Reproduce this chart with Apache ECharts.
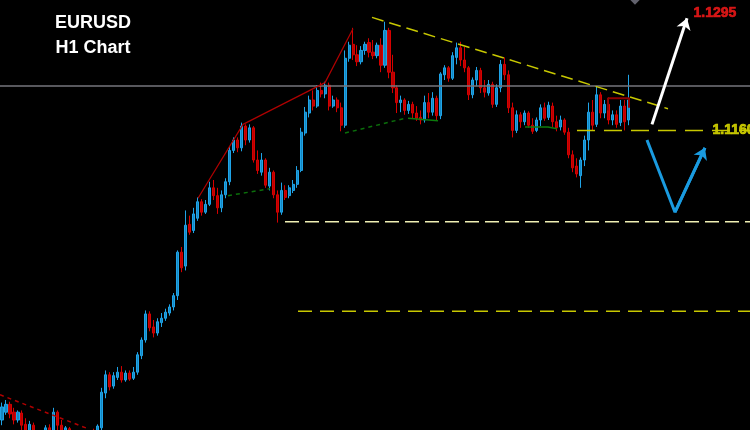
<!DOCTYPE html>
<html>
<head>
<meta charset="utf-8">
<title>EURUSD H1 Chart</title>
<script src="https://cdn.jsdelivr.net/npm/echarts@6/dist/echarts.min.js"></script>
<style>
  html, body { margin: 0; padding: 0; background: #000; }
  #chart { width: 750px; height: 430px; }
</style>
</head>
<body>
<div id="chart"></div>
<script>
// hourly candles, oldest first
const opens = [
  1.0827, 1.0836, 1.0845, 1.0836, 1.0827, 1.0835, 1.0822, 1.0813, 1.0821, 1.0806,
  1.0798, 1.0806, 1.0818, 1.0813, 1.0836, 1.0821, 1.0812, 1.0817, 1.0806, 1.0798,
  1.0804, 1.0797, 1.0806, 1.0813, 1.0813, 1.0818, 1.0858, 1.0879, 1.0866, 1.0876,
  1.0882, 1.0873, 1.0881, 1.0875, 1.0882, 1.0901, 1.0919, 1.0949, 1.0934, 1.0927,
  1.0939, 1.0944, 1.0950, 1.0957, 1.0970, 1.1020, 1.1004, 1.1052, 1.1045, 1.1059,
  1.1078, 1.1066, 1.1075, 1.1094, 1.1085, 1.1071, 1.1086, 1.1101, 1.1137, 1.1149,
  1.1140, 1.1165, 1.1149, 1.1163, 1.1126, 1.1112, 1.1126, 1.1096, 1.1112, 1.1086,
  1.1066, 1.1091, 1.1085, 1.1091, 1.1098, 1.1114, 1.1157, 1.1180, 1.1195, 1.1188,
  1.1206, 1.1202, 1.1212, 1.1188, 1.1195, 1.1186, 1.1166, 1.1243, 1.1259, 1.1247,
  1.1239, 1.1252, 1.1261, 1.1250, 1.1246, 1.1258, 1.1235, 1.1275, 1.1227, 1.1209,
  1.1192, 1.1195, 1.1183, 1.1190, 1.1180, 1.1175, 1.1172, 1.1192, 1.1181, 1.1197,
  1.1177, 1.1224, 1.1232, 1.1220, 1.1244, 1.1255, 1.1241, 1.1232, 1.1201, 1.1218,
  1.1229, 1.1209, 1.1203, 1.1213, 1.1190, 1.1209, 1.1236, 1.1224, 1.1186, 1.1160,
  1.1178, 1.1170, 1.1180, 1.1166, 1.1160, 1.1172, 1.1186, 1.1175, 1.1188, 1.1170,
  1.1164, 1.1172, 1.1158, 1.1132, 1.1119, 1.1108, 1.1126, 1.1149, 1.1181, 1.1167,
  1.1201, 1.1180, 1.1190, 1.1172, 1.1178, 1.1169, 1.1188, 1.1172
];
const closes = [
  1.0842, 1.0845, 1.0834, 1.0827, 1.0836, 1.0821, 1.0813, 1.0822, 1.0806, 1.0798,
  1.0806, 1.0818, 1.0811, 1.0836, 1.0821, 1.0811, 1.0818, 1.0806, 1.0798, 1.0804,
  1.0797, 1.0806, 1.0813, 1.0809, 1.0820, 1.0859, 1.0879, 1.0865, 1.0878, 1.0882,
  1.0873, 1.0881, 1.0874, 1.0882, 1.0902, 1.0919, 1.0949, 1.0933, 1.0927, 1.0940,
  1.0944, 1.0951, 1.0957, 1.0970, 1.1020, 1.1002, 1.1051, 1.1043, 1.1064, 1.1078,
  1.1066, 1.1075, 1.1094, 1.1085, 1.1071, 1.1086, 1.1101, 1.1137, 1.1149, 1.1140,
  1.1165, 1.1149, 1.1163, 1.1126, 1.1114, 1.1126, 1.1097, 1.1112, 1.1086, 1.1066,
  1.1091, 1.1083, 1.1094, 1.1098, 1.1114, 1.1158, 1.1181, 1.1195, 1.1188, 1.1206,
  1.1202, 1.1212, 1.1188, 1.1195, 1.1186, 1.1166, 1.1243, 1.1258, 1.1247, 1.1239,
  1.1252, 1.1259, 1.1250, 1.1246, 1.1258, 1.1235, 1.1275, 1.1227, 1.1209, 1.1192,
  1.1195, 1.1183, 1.1190, 1.1180, 1.1174, 1.1172, 1.1192, 1.1181, 1.1197, 1.1177,
  1.1225, 1.1232, 1.1220, 1.1246, 1.1255, 1.1241, 1.1232, 1.1201, 1.1218, 1.1229,
  1.1209, 1.1204, 1.1213, 1.1190, 1.1209, 1.1236, 1.1224, 1.1186, 1.1160, 1.1178,
  1.1170, 1.1180, 1.1166, 1.1159, 1.1172, 1.1186, 1.1174, 1.1189, 1.1170, 1.1163,
  1.1172, 1.1158, 1.1132, 1.1117, 1.1110, 1.1126, 1.1149, 1.1181, 1.1166, 1.1201,
  1.1180, 1.1190, 1.1172, 1.1178, 1.1167, 1.1188, 1.1170, 1.1195
];
const lows = [
  1.0821, 1.0833, 1.0829, 1.0822, 1.0824, 1.0815, 1.0809, 1.0809, 1.0802, 1.0792,
  1.0795, 1.0804, 1.0806, 1.0810, 1.0815, 1.0806, 1.0809, 1.0802, 1.0792, 1.0792,
  1.0790, 1.0794, 1.0803, 1.0804, 1.0809, 1.0813, 1.0852, 1.0861, 1.0863, 1.0873,
  1.0870, 1.0871, 1.0872, 1.0873, 1.0879, 1.0897, 1.0916, 1.0929, 1.0922, 1.0924,
  1.0934, 1.0941, 1.0947, 1.0953, 1.0965, 1.0997, 1.0999, 1.1040, 1.1042, 1.1056,
  1.1062, 1.1064, 1.1073, 1.1080, 1.1064, 1.1066, 1.1082, 1.1097, 1.1134, 1.1135,
  1.1136, 1.1143, 1.1146, 1.1123, 1.1110, 1.1108, 1.1094, 1.1091, 1.1082, 1.1054,
  1.1063, 1.1080, 1.1082, 1.1088, 1.1094, 1.1112, 1.1154, 1.1175, 1.1183, 1.1186,
  1.1198, 1.1197, 1.1183, 1.1186, 1.1181, 1.1159, 1.1163, 1.1239, 1.1241, 1.1234,
  1.1236, 1.1247, 1.1244, 1.1242, 1.1243, 1.1227, 1.1232, 1.1220, 1.1203, 1.1180,
  1.1181, 1.1178, 1.1179, 1.1174, 1.1171, 1.1167, 1.1169, 1.1174, 1.1177, 1.1171,
  1.1173, 1.1218, 1.1216, 1.1218, 1.1236, 1.1234, 1.1227, 1.1195, 1.1197, 1.1211,
  1.1203, 1.1198, 1.1200, 1.1186, 1.1187, 1.1204, 1.1218, 1.1180, 1.1152, 1.1157,
  1.1163, 1.1166, 1.1163, 1.1156, 1.1158, 1.1165, 1.1171, 1.1172, 1.1164, 1.1159,
  1.1160, 1.1155, 1.1128, 1.1112, 1.1106, 1.1094, 1.1119, 1.1137, 1.1160, 1.1164,
  1.1174, 1.1174, 1.1167, 1.1166, 1.1163, 1.1165, 1.1160, 1.1166
];
const highs = [
  1.0847, 1.0850, 1.0848, 1.0841, 1.0838, 1.0838, 1.0829, 1.0826, 1.0824, 1.0811,
  1.0813, 1.0821, 1.0822, 1.0841, 1.0838, 1.0827, 1.0820, 1.0819, 1.0810, 1.0807,
  1.0806, 1.0810, 1.0815, 1.0817, 1.0822, 1.0864, 1.0884, 1.0882, 1.0882, 1.0888,
  1.0889, 1.0884, 1.0884, 1.0888, 1.0905, 1.0922, 1.0953, 1.0952, 1.0942, 1.0944,
  1.0950, 1.0955, 1.0960, 1.0973, 1.1022, 1.1026, 1.1068, 1.1062, 1.1071, 1.1083,
  1.1081, 1.1080, 1.1101, 1.1103, 1.1094, 1.1091, 1.1105, 1.1142, 1.1152, 1.1152,
  1.1169, 1.1167, 1.1167, 1.1165, 1.1137, 1.1134, 1.1128, 1.1117, 1.1114, 1.1091,
  1.1100, 1.1097, 1.1097, 1.1103, 1.1119, 1.1163, 1.1187, 1.1200, 1.1206, 1.1212,
  1.1215, 1.1216, 1.1215, 1.1200, 1.1198, 1.1192, 1.1252, 1.1262, 1.1278, 1.1258,
  1.1257, 1.1262, 1.1266, 1.1264, 1.1261, 1.1266, 1.1285, 1.1278, 1.1247, 1.1212,
  1.1200, 1.1197, 1.1194, 1.1193, 1.1188, 1.1183, 1.1200, 1.1203, 1.1204, 1.1200,
  1.1227, 1.1235, 1.1234, 1.1250, 1.1261, 1.1262, 1.1256, 1.1234, 1.1221, 1.1233,
  1.1232, 1.1218, 1.1218, 1.1216, 1.1213, 1.1241, 1.1244, 1.1229, 1.1192, 1.1183,
  1.1181, 1.1183, 1.1182, 1.1174, 1.1175, 1.1190, 1.1192, 1.1193, 1.1192, 1.1177,
  1.1177, 1.1174, 1.1163, 1.1137, 1.1128, 1.1129, 1.1154, 1.1192, 1.1195, 1.1210,
  1.1204, 1.1195, 1.1198, 1.1183, 1.1183, 1.1195, 1.1195, 1.1224
];

// drawn objects, as [bar position, price]
const zigzag = [[49.13, 1.1082], [60.41, 1.1167], [80.97, 1.1215], [87.98, 1.1277]];
const oldTrend = [[-0.5, 1.0856], [21.56, 1.0817]];
const supportA = [[56.65, 1.1085], [67.18, 1.1093]];
const supportB = [[85.98, 1.1157], [101.02, 1.1174]];
const baseA = [[101.77, 1.1174], [109.29, 1.1171]];
const baseB = [[131.1, 1.1164], [136.86, 1.1164], [136.86, 1.1162], [139.12, 1.1162]];
const downTrend = [[92.75, 1.1290], [166.94, 1.1185]];
const level1160 = [[144.13, 1.1160], [187.5, 1.1160]];
const level1055 = [[70.94, 1.1055], [187.5, 1.1055]];
const level0952 = [[74.2, 1.0952], [187.5, 1.0952]];
const lastPrice = [[-0.5, 1.1211], [187.5, 1.1211]];
const rangeBox = [[151.9, 1.1183], [151.9, 1.1197], [157.17, 1.1197], [157.17, 1.1186]];
const bullPath = [[162.93, 1.1167], [171.71, 1.1289]];
const dipPath = [[161.68, 1.1149], [168.7, 1.1066], [176.2, 1.1140]];
const marker = [[158.67, 1.1311]];
const targetHigh = [[173.2, 1.1295]];
const targetLevel = [[177.97, 1.1160]];

const barCount = 188;
const categories = Array.from({ length: barCount }, (_, i) => String(i));

const chart = echarts.init(document.getElementById('chart'));

function line(points, color, width, type) {
  return {
    type: 'line',
    xAxisIndex: 1,
    data: points,
    symbol: 'none',
    silent: true,
    animation: false,
    lineStyle: { color: color, width: width, type: type || 'solid' }
  };
}

function arrowHead(points, color, width) {
  const a = points[points.length - 2];
  const b = points[points.length - 1];
  return {
    type: 'line',
    xAxisIndex: 1,
    data: [],
    silent: true,
    animation: false,
    markLine: {
      silent: true,
      animation: false,
      symbol: ['none', 'arrow'],
      symbolSize: 11,
      label: { show: false },
      lineStyle: { color: color, width: width, type: 'solid' },
      data: [[{ coord: a }, { coord: b }]]
    }
  };
}

function priceTag(points, color, dy) {
  return {
    type: 'scatter',
    xAxisIndex: 1,
    data: points,
    symbolSize: 1,
    silent: true,
    itemStyle: { color: 'transparent' },
    label: {
      show: true,
      position: 'right',
      distance: 0,
      offset: [0, dy],
      formatter: p => p.value[1].toFixed(4),
      fontFamily: 'Liberation Sans',
      fontWeight: 'bold',
      fontSize: 14,
      color: color,
      textBorderColor: color,
      textBorderWidth: 0.7
    },
    labelLayout: { hideOverlap: false }
  };
}

const option = {
  backgroundColor: '#000',
  animation: false,
  grid: { left: 0, right: 0, top: 0, bottom: 0 },
  xAxis: [
    { type: 'category', data: categories, show: false },
    { type: 'value', min: -0.5, max: barCount - 0.5, show: false }
  ],
  yAxis: { type: 'value', min: 1.08155, max: 1.1310, show: false, splitLine: { show: false } },
  graphic: [
    {
      type: 'text',
      x: 93,
      y: 11,
      style: {
        text: 'EURUSD\nH1 Chart',
        fill: '#fff',
        font: 'bold 18px "Liberation Sans", Arial, sans-serif',
        lineHeight: 25,
        textAlign: 'center',
        textVerticalAlign: 'top'
      }
    }
  ],
  series: [
    line(lastPrice, '#76767c', 1.5),
    {
      type: 'candlestick',
      data: opens.map((o, i) => [o, closes[i], lows[i], highs[i]]),
      barWidth: 2.6,
      silent: true,
      itemStyle: {
        color: '#1588c2',
        color0: '#b80000',
        borderColor: '#1fa4e8',
        borderColor0: '#d60000',
        borderWidth: 1
      }
    },
    line(zigzag, '#b00000', 1.2),
    line(oldTrend, '#b00000', 1.5, [4, 4]),
    line(supportA, '#0b6f0b', 1.5, [4, 4]),
    line(supportB, '#0b6f0b', 1.5, [4, 4]),
    line(baseA, '#0c7a0c', 1.5),
    line(baseB, '#0c7a0c', 1.5),
    line(downTrend, '#c8c800', 1.5, [12, 6]),
    line(level1160, '#c8c800', 1.5, [18, 9]),
    line(level1055, '#f0f0b4', 1.5, [14, 6]),
    line(level0952, '#c8c800', 1.5, [14, 8]),
    line(rangeBox, '#8c0000', 2),
    line(dipPath, '#1a9be0', 3),
    arrowHead(dipPath, '#1a9be0', 3),
    arrowHead(bullPath, '#ffffff', 3),
    {
      type: 'scatter',
      xAxisIndex: 1,
      data: marker,
      symbol: 'diamond',
      symbolSize: [11, 11],
      clip: false,
      silent: true,
      itemStyle: { color: '#7a7a88' }
    },
    priceTag(targetHigh, '#ff1a1a', 0),
    priceTag(targetLevel, '#e8e800', -13)
  ]
};

chart.setOption(option);
window.addEventListener('resize', () => chart.resize());
</script>
</body>
</html>
